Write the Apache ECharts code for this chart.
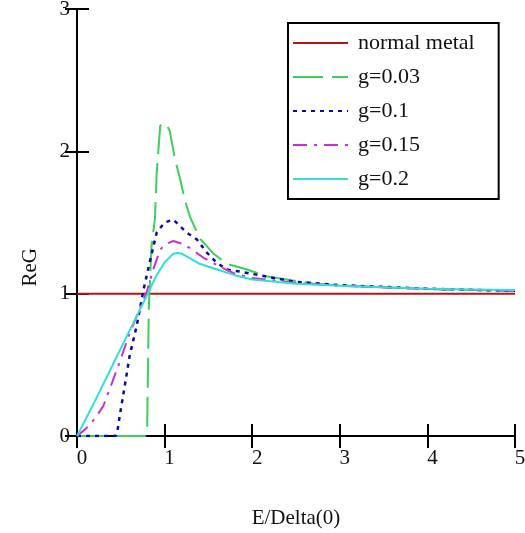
<!DOCTYPE html>
<html><head><meta charset="utf-8">
<script src="https://cdn.jsdelivr.net/npm/echarts@6/dist/echarts.min.js"></script>
<style>html,body{margin:0;padding:0;background:#fff}#c{width:525px;height:533px}</style>
</head><body><div id="c"></div>
<script>
var seriesNames = ['normal metal', 'g=0.03', 'g=0.1', 'g=0.15', 'g=0.2'];
var xTicks = [0, 1, 2, 3, 4, 5];
var yTicks = [0, 1, 2, 3];

var xNormal = [0, 5];
var yNormal = [1.0, 1.0];

var x003 = [0, 0.78, 0.80, 0.82, 0.85, 0.89, 0.91, 0.95, 0.985, 1.03, 1.06, 1.12, 1.18, 1.23, 1.29, 1.40, 1.56, 1.71, 1.94, 2.17, 2.70, 3.42, 4.22, 5];
var y003 = [0, 0, 0.02, 0.9, 1.33, 1.53, 1.85, 2.18, 2.20, 2.18, 2.14, 1.94, 1.80, 1.66, 1.54, 1.39, 1.28, 1.21, 1.17, 1.12, 1.07, 1.045, 1.03, 1.02];

var x01 = [0, 0.44, 0.46, 0.49, 0.55, 0.60, 0.68, 0.76, 0.83, 0.91, 1.0, 1.1, 1.25, 1.37, 1.48, 1.59, 1.71, 1.86, 2.47, 3.0, 4.0, 5];
var y01 = [0, 0, 0.03, 0.15, 0.37, 0.56, 0.77, 1.03, 1.22, 1.43, 1.50, 1.52, 1.43, 1.38, 1.29, 1.22, 1.17, 1.155, 1.085, 1.06, 1.035, 1.02];

var x015 = [0, 0.1, 0.2, 0.3, 0.47, 0.6, 0.7, 0.8, 0.87, 0.95, 1.02, 1.10, 1.20, 1.29, 1.45, 1.63, 1.8, 2.0, 2.5, 3.0, 4.0, 5];
var y015 = [0, 0.05, 0.12, 0.21, 0.49, 0.72, 0.87, 1.02, 1.17, 1.31, 1.35, 1.37, 1.35, 1.32, 1.25, 1.19, 1.14, 1.11, 1.075, 1.055, 1.033, 1.02];

var x02 = [0, 0.2, 0.4, 0.6, 0.8, 0.9, 1.0, 1.1, 1.15, 1.2, 1.4, 1.6, 1.8, 2.0, 2.5, 3.0, 3.5, 4.0, 4.5, 5];
var y02 = [0, 0.24, 0.49, 0.74, 0.99, 1.12, 1.22, 1.28, 1.285, 1.28, 1.21, 1.17, 1.13, 1.10, 1.07, 1.056, 1.045, 1.035, 1.03, 1.025];

function pairs(xs, ys) { return xs.map(function (x, i) { return [x, ys[i]]; }); }

var font = '"Liberation Serif", "Times New Roman", serif';
var chart = echarts.init(document.getElementById('c'), null, { renderer: 'canvas' });
var axisLine = { show: true, lineStyle: { color: '#000', width: 2 } };
var tick = { show: true, inside: true, length: 12, lineStyle: { color: '#000', width: 2 } };

function mk(name, xs, ys, color, type, width) {
  return {
    name: name, type: 'line', data: pairs(xs, ys), symbol: 'none', showSymbol: false,
    lineStyle: { color: color, width: width || 2, type: type }, itemStyle: { color: color },
    animation: false, z: 3
  };
}

chart.setOption({
  animation: false,
  textStyle: { fontFamily: font },
  grid: { left: 77, right: 10, top: 9, bottom: 97, containLabel: false, outerBoundsMode: 'none' },
  xAxis: [{
    type: 'value', min: 0, max: 5, interval: 1, position: 'bottom',
    axisLine: axisLine, axisTick: tick, splitLine: { show: false },
    axisLabel: { margin: 12, color: '#111', fontFamily: font, fontSize: 21, padding: [0, 0, 0, 10],
      formatter: function (v) { return xTicks.indexOf(v) >= 0 ? String(v) : ''; } },
    name: 'E/Delta(0)', nameLocation: 'middle', nameGap: 72,
    nameTextStyle: { color: '#111', fontFamily: font, fontSize: 21 }
  }, {
    type: 'value', min: 0, max: 5, interval: 1, position: 'top',
    axisLine: axisLine, axisTick: tick, splitLine: { show: false }, axisLabel: { show: false }
  }],
  yAxis: [{
    type: 'value', min: 0, max: 3, interval: 1, position: 'left',
    axisLine: axisLine, axisTick: tick, splitLine: { show: false },
    axisLabel: { margin: 7, color: '#111', fontFamily: font, fontSize: 21, padding: [6, 0, 0, 0],
      formatter: function (v) { return yTicks.indexOf(v) >= 0 ? String(v) : ''; } }
  }, {
    type: 'value', min: 0, max: 3, interval: 1, position: 'right',
    axisLine: axisLine, axisTick: tick, splitLine: { show: false }, axisLabel: { show: false }
  }],
  legend: {
    orient: 'vertical', left: 288, top: 23,
    padding: [9, 24, 9, 4], itemGap: 12, itemWidth: 55, itemHeight: 15,
    borderColor: '#000', borderWidth: 2, backgroundColor: '#fff', borderRadius: 0,
    itemStyle: { color: 'rgba(0,0,0,0)', borderWidth: 0, opacity: 0 },
    textStyle: { color: '#111', fontFamily: font, fontSize: 22, padding: [0, 0, 0, 5] },
    data: seriesNames
  },
  graphic: [{
    type: 'text', left: 20, top: 248, rotation: Math.PI / 2,
    style: { text: 'ReG', font: '21px ' + font, fill: '#111' }
  }],
  series: [
    mk(seriesNames[0], xNormal, yNormal, '#b01818', 'solid', 2),
    mk(seriesNames[1], x003, y003, '#3ccf5c', [30, 9], 2),
    mk(seriesNames[2], x01, y01, '#0a0aa0', [4, 5], 2.5),
    mk(seriesNames[3], x015, y015, '#cc30cc', [14, 7, 3, 7], 2),
    mk(seriesNames[4], x02, y02, '#30dede', 'solid', 2)
  ]
});
</script></body></html>
